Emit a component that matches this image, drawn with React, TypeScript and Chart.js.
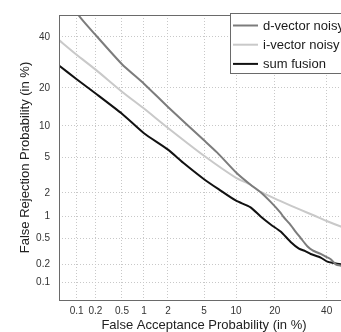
import React, { useEffect, useRef } from "react";
import { Chart, registerables } from "chart.js";

Chart.register(...registerables);

// Axis ticks (percent) and their labels – both axes use the same normal-deviate (DET) scale
const tickPercents = [0.1, 0.2, 0.5, 1, 2, 5, 10, 20, 40];
const tickLabels = ["0.1", "0.2", "0.5", "1", "2", "5", "10", "20", "40"];
const axisMinPercent = 0.05;
const axisMaxPercent = 50;

const seriesLabels = ["d-vector noisy", "i-vector noisy", "sum fusion"];
const seriesColors = ["#7c7c7c", "#c9c9c9", "#111111"];

// d-vector noisy: false acceptance (%) / false rejection (%)
const dVectorFA = [0.09, 0.107, 0.2, 0.5, 1, 2, 5, 6.75, 10, 13.2, 15.8, 18.7, 21.9, 23, 25, 27.2, 29.2, 31.8, 34, 37.4, 40, 41.8, 44, 46.3, 50];
const dVectorFR = [56, 50, 41, 28.5, 21.4, 14.4, 7.4, 5.6, 3.45, 2.5, 2.04, 1.55, 1.12, 0.97, 0.8, 0.62, 0.5, 0.38, 0.33, 0.29, 0.26, 0.24, 0.2, 0.19, 0.18];

// i-vector noisy
const iVectorFA = [0.05, 0.1, 0.2, 0.5, 1, 2, 5, 10, 13.2, 15.8, 21.9, 29.2, 34.6, 40, 46.3, 50];
const iVectorFR = [38.6, 32.3, 26.5, 18.8, 14.0, 9.6, 5.2, 3.0, 2.5, 2.05, 1.58, 1.22, 1.03, 0.87, 0.73, 0.67];

// sum fusion
const sumFusionFA = [0.05, 0.1, 0.2, 0.5, 1, 2, 3, 5, 7, 10, 13.2, 15.8, 18.7, 21.9, 25.4, 28.5, 31, 33.2, 37.4, 40.3, 43, 46.3, 50];
const sumFusionFR = [28, 22.9, 18.3, 12.7, 8.6, 6.0, 4.4, 2.9, 2.2, 1.6, 1.32, 1.0, 0.78, 0.62, 0.44, 0.35, 0.32, 0.29, 0.255, 0.22, 0.21, 0.2, 0.19];

// inverse standard normal CDF (Acklam)
function probit(p: number): number {
  const a = [-3.969683028665376e1, 2.209460984245205e2, -2.759285104469687e2, 1.38357751867269e2, -3.066479806614716e1, 2.506628277459239];
  const b = [-5.447609879822406e1, 1.615858368580409e2, -1.556989798598866e2, 6.680131188771972e1, -1.328068155288572e1];
  const c = [-7.784894002430293e-3, -3.223964580411365e-1, -2.400758277161838, -2.549732539343734, 4.374664141464968, 2.938163982698783];
  const d = [7.784695709041462e-3, 3.224671290700398e-1, 2.445134137142996, 3.754408661907416];
  const pl = 0.02425;
  if (p < pl) {
    const q = Math.sqrt(-2 * Math.log(p));
    return (((((c[0] * q + c[1]) * q + c[2]) * q + c[3]) * q + c[4]) * q + c[5]) / ((((d[0] * q + d[1]) * q + d[2]) * q + d[3]) * q + 1);
  }
  if (p <= 1 - pl) {
    const q = p - 0.5;
    const r = q * q;
    return ((((((a[0] * r + a[1]) * r + a[2]) * r + a[3]) * r + a[4]) * r + a[5]) * q) / (((((b[0] * r + b[1]) * r + b[2]) * r + b[3]) * r + b[4]) * r + 1);
  }
  const q = Math.sqrt(-2 * Math.log(1 - p));
  return -(((((c[0] * q + c[1]) * q + c[2]) * q + c[3]) * q + c[4]) * q + c[5]) / ((((d[0] * q + d[1]) * q + d[2]) * q + d[3]) * q + 1);
}

const toPoints = (fa: number[], fr: number[]) => fa.map((v, i) => ({ x: probit(v / 100), y: probit(fr[i] / 100) }));

const FONT = "'Liberation Sans', Arial, sans-serif";

const boxAndLegend = {
  id: "boxAndLegend",
  afterDatasetsDraw(chart: any) {
    const { ctx, chartArea } = chart;
    ctx.save();
    ctx.strokeStyle = "#6a6a6a";
    ctx.lineWidth = 1;
    ctx.strokeRect(Math.round(chartArea.left) + 0.5, Math.round(chartArea.top) + 0.5, Math.round(chartArea.right - chartArea.left), Math.round(chartArea.bottom - chartArea.top));
    // legend box
    const lx = 230.5, ly = 13.5, lw = 140, lh = 60;
    ctx.fillStyle = "#ffffff";
    ctx.fillRect(lx, ly, lw, lh);
    ctx.strokeStyle = "#6a6a6a";
    ctx.strokeRect(lx, ly, lw, lh);
    ctx.font = `13px ${FONT}`;
    ctx.textBaseline = "middle";
    ctx.textAlign = "left";
    chart.data.datasets.forEach((ds: any, i: number) => {
      const y = 25.5 + i * 19.2;
      ctx.strokeStyle = ds.borderColor;
      ctx.lineWidth = 2;
      ctx.beginPath();
      ctx.moveTo(233, y);
      ctx.lineTo(258, y);
      ctx.stroke();
      ctx.fillStyle = "#1a1a1a";
      ctx.fillText(ds.label, 263, y + 0.5);
    });
    ctx.restore();
  },
};

const tickBuilder = (scale: any) => {
  scale.ticks = tickPercents.map((p) => ({ value: probit(p / 100) }));
};

export default function App() {
  const ref = useRef<HTMLCanvasElement>(null);
  useEffect(() => {
    document.body.style.margin = "0";
    document.body.style.overflow = "hidden";
    const canvas = ref.current!;
    const chart = new Chart(canvas, {
      type: "line",
      data: {
        datasets: [
          { label: seriesLabels[0], data: toPoints(dVectorFA, dVectorFR), borderColor: seriesColors[0], borderWidth: 2, pointRadius: 0, tension: 0.2 },
          { label: seriesLabels[1], data: toPoints(iVectorFA, iVectorFR), borderColor: seriesColors[1], borderWidth: 2, pointRadius: 0, tension: 0.2 },
          { label: seriesLabels[2], data: toPoints(sumFusionFA, sumFusionFR), borderColor: seriesColors[2], borderWidth: 2, pointRadius: 0, tension: 0.2 },
        ],
      },
      options: {
        animation: false,
        responsive: false,
        devicePixelRatio: 1,
        layout: { padding: { left: 0, top: 8, right: 3, bottom: 0 } },
        plugins: { legend: { display: false }, tooltip: { enabled: false } },
        scales: {
          x: {
            type: "linear",
            position: "bottom",
            min: probit(axisMinPercent / 100),
            max: probit(axisMaxPercent / 100),
            afterBuildTicks: tickBuilder,
            afterFit: (s: any) => { s.height = 32; },
            grid: { color: "#c8c8c8", lineWidth: 1, drawTicks: false },
            border: { display: false, dash: [1, 2] },
            ticks: {
              autoSkip: false,
              maxRotation: 0,
              padding: 5,
              color: "#333333",
              font: { family: FONT, size: 10 },
              callback: (_v: any, i: number) => tickLabels[i],
            },
            title: {
              display: true,
              text: "False Acceptance Probability (in %)",
              color: "#222222",
              font: { family: FONT, size: 13, lineHeight: 1 },
              padding: { top: 0, bottom: 0 },
            },
          },
          y: {
            type: "linear",
            position: "left",
            min: probit(axisMinPercent / 100),
            max: probit(axisMaxPercent / 100),
            afterBuildTicks: tickBuilder,
            afterFit: (s: any) => { s.width = 59; },
            grid: { color: "#c8c8c8", lineWidth: 1, drawTicks: false },
            border: { display: false, dash: [1, 2] },
            ticks: {
              autoSkip: false,
              padding: 9,
              color: "#333333",
              font: { family: FONT, size: 10 },
              callback: (_v: any, i: number) => tickLabels[i],
            },
            title: {
              display: true,
              text: "False Rejection Probability (in %)",
              color: "#222222",
              font: { family: FONT, size: 13, lineHeight: 1 },
              padding: { top: 19, bottom: 0 },
            },
          },
        },
      },
      plugins: [boxAndLegend],
    } as any);
    return () => chart.destroy();
  }, []);
  return (
    <div style={{ width: 352, height: 332 }}>
      <canvas ref={ref} width={352} height={332} style={{ display: "block" }} />
    </div>
  );
}
